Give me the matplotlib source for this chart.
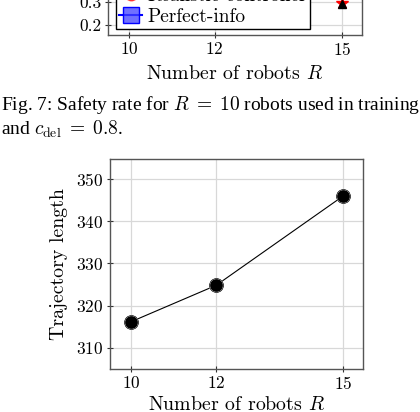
import matplotlib
matplotlib.use("Agg")
import matplotlib.pyplot as plt
from matplotlib.lines import Line2D

plt.rcParams['mathtext.fontset'] = 'cm'
plt.rcParams['axes.formatter.use_mathtext'] = True
plt.rcParams['font.family'] = ['cmr10', 'DejaVu Serif']

# data
robots = [10, 12, 15]
traj_len = [316.2, 324.8, 346.0]

# visible part of the safety-rate plot above (only the R=15 points show)
safety_x = [15]
safety_realistic = [0.295]
safety_perfect = [0.29]

x_ticks = [10, 12, 15]
top_y_ticks = [0.2, 0.3]
bot_y_ticks = [310, 320, 330, 340, 350]

W, H = 420, 412
fig = plt.figure(figsize=(W / 100, H / 100), dpi=100)

grid_c = '#d8d8d8'
spine_c = '#555555'


def style(ax):
    for s in ax.spines.values():
        s.set_color(spine_c)
        s.set_linewidth(1.0)
    ax.grid(True, color=grid_c, linewidth=0.9)
    ax.set_axisbelow(True)
    ax.tick_params(direction='inout', length=5, width=0.8, color='#333333',
                   labelsize=12.5, pad=2)
    ax.set_xticks(x_ticks)
    ax.set_xlim(9.5, 15.46)


# top plot (cut off by the page crop)
ax1 = fig.add_axes([108 / W, 1 - 35 / H, 254 / W, 205 / H])
style(ax1)
ax1.set_ylim(0.1565, 1.05)
ax1.set_yticks(top_y_ticks)
ax1.set_yticklabels(['0.2', '0.3'])
ax1.plot(safety_x, safety_realistic, linestyle='none', marker='*', color='red',
         markersize=9)
ax1.plot(safety_x, safety_perfect, linestyle='none', marker='^', color='black',
         markersize=6)
ax1.set_xlabel('Number of robots $R$', fontsize=14.3, labelpad=5)

handles = [
    Line2D([], [], color='red', marker='o', markersize=9, markerfacecolor=(1, 0.3, 0.3, 0.7)),
    Line2D([], [], color='blue', marker='s', markersize=11,
           markerfacecolor=(0.25, 0.25, 1.0, 0.75), markeredgecolor='blue'),
]
leg = fig.legend(handles, ['Realistic-controller', 'Perfect-info'],
                 loc='lower left', bbox_to_anchor=(116 / W, 1 - 29 / H),
                 fontsize=14, frameon=True, fancybox=False, framealpha=1,
                 edgecolor='black', handlelength=1.2, handletextpad=0.25,
                 borderpad=0.15, labelspacing=0.15, borderaxespad=0)
leg.get_frame().set_linewidth(1.0)

# caption
fig.text(1 / W, 1 - 110 / H, 'Fig. 7: Safety rate for $R\\;=\\;10$ robots used in training',
         family='Liberation Serif', fontsize=14, va='baseline', ha='left')
fig.text(1 / W, 1 - 135 / H, 'and $c_{\\mathrm{del}}\\;=\\;0.8$.',
         family='Liberation Serif', fontsize=14, va='baseline', ha='left')

# bottom plot
ax2 = fig.add_axes([110 / W, 1 - 369 / H, 253 / W, 210 / H])
style(ax2)
ax2.set_ylim(305.0, 354.7)
ax2.set_yticks(bot_y_ticks)
ax2.plot(robots, traj_len, color='black', linewidth=0.8, marker='o',
         markersize=10, markerfacecolor='black', markeredgecolor='white',
         markeredgewidth=0.8)
ax2.plot(robots, traj_len, linestyle='none', marker='o', markersize=10,
         markerfacecolor='none', markeredgecolor='black', markeredgewidth=0.5)
ax2.set_xlabel('Number of robots $R$', fontsize=14.3, labelpad=3)
ax2.set_ylabel('Trajectory length', fontsize=14.3, labelpad=6)

fig.savefig('out.png', dpi=100)
